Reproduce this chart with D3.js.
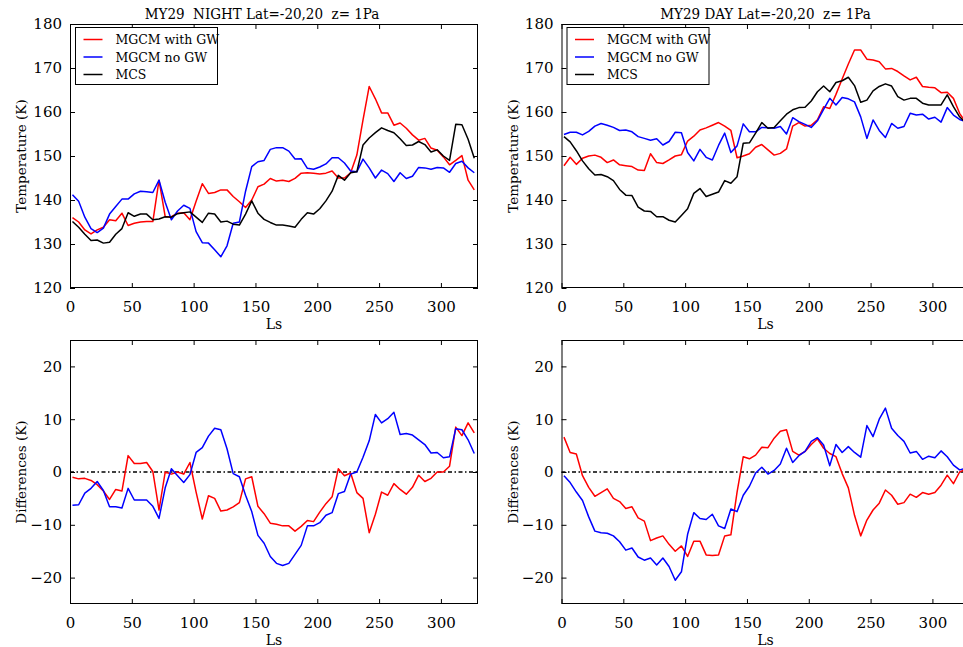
<!DOCTYPE html>
<html><head><meta charset="utf-8">
<script src="https://cdn.jsdelivr.net/npm/d3@7"></script>
<style>
body{margin:0;background:#fff;}
svg{display:block;}
text{white-space:pre;}
</style></head>
<body><svg id="chart" width="963" height="647"></svg>
<script>
const ls = [2,7,12,17,22,27,32,37,42,47,52,57,62,67,72,77,82,87,92,97,102,107,112,117,122,127,132,137,142,147,152,157,162,167,172,177,182,187,192,197,202,207,212,217,222,227,232,237,242,247,252,257,262,267,272,277,282,287,292,297,302,307,312,317,322,327];

const xTicks = [0,50,100,150,200,250,300];
const tempTicks = [120,130,140,150,160,170,180];
const diffTicks = [-20,-10,0,10,20];
const seriesNames = ["MGCM with GW","MGCM no GW","MCS"];
const titles = ["MY29  NIGHT Lat=-20,20  z= 1Pa","MY29 DAY Lat=-20,20  z= 1Pa"];

const nightWithGW = [136,135,133.2,132.3,133.2,133.8,135.5,135.3,137,134.2,134.7,135,135.1,135.1,144.5,136.2,136.2,137,137.1,135.5,139.7,143.7,141.5,141.7,142.3,142.3,140.8,139.6,138.3,140,143,143.6,144.9,144.3,144.5,144.2,144.9,146.1,146.2,146.1,145.9,146.1,146.6,145,145,146.2,150.2,158.2,165.8,163,159.8,159.8,157,157.5,156.3,154.8,153.6,154,151.8,151.3,149.8,148,149,150.1,144.5,142.3];
const nightNoGW = [141.2,139.7,136.1,133.5,132.6,133.6,136.8,138.5,140.2,140.2,141.4,142,141.9,141.7,144.5,139.5,135.5,137.5,138.8,138.1,132.8,130.3,130.2,128.7,127.1,129.6,134.7,135,142,147.6,148.7,149,151.5,151.9,151.9,151.1,149.3,149.4,147.2,147,147.5,148.2,149.6,149.6,148.4,146.6,146.4,149.3,147.3,145,146.8,146,144.2,146.2,144.9,145.4,147.4,147.3,147,147.4,147.3,146.3,148.3,148.8,147.3,146.2];
const nightMCS = [135.1,133.8,132.2,130.8,130.9,130.2,130.4,132.2,133.5,137.1,136.3,136.8,136.8,135.5,135.7,136.2,136.1,136.9,137.1,137.3,136.1,134.9,137,136.8,135,135.2,134.5,134.3,136.8,139.8,137,135.6,134.9,134.3,134.3,134.1,133.8,135.6,137.1,136.8,138,139.8,142,145.6,144.5,146.2,146.4,152.5,154.1,155.3,156.4,155.8,155.3,153.9,152.4,152.5,153.3,152.6,150.9,151.4,150,149,157.2,157.1,153.8,149.5];

const dayWithGW = [147.8,149.7,148.1,149.5,150,150.2,149.7,148.5,149.1,148,147.8,147.6,146.8,146.7,150.5,148.5,148.3,149.1,150,150.3,153.4,154.5,155.9,156.4,157,157.6,156.8,155.8,149.6,150,150.5,152,152.6,151.4,150.2,150.6,151.6,156.8,157.6,156.8,157,158.2,161.2,160.8,164,167.5,170.9,174.1,174.1,172,171.8,171.4,169.8,169.9,169.2,168.2,167.3,167.9,165.8,165.6,165.5,164.4,164.5,163.1,159.7,157.6];
const dayNoGW = [154.9,155.4,155.4,154.8,155.6,156.8,157.4,157,156.5,155.8,155.9,155.5,154.4,154,153.6,153.9,152.5,153.3,155.4,155.3,150.8,148.9,151.5,149.7,149.1,152.4,155.2,150.8,152.3,157.3,155.5,155.5,156.5,156.4,156.3,156.7,155,158.7,157.8,157.2,156.5,158,160.6,163.1,161.6,163.3,163,162.3,158.9,154,158.2,155.8,154.2,157.4,156.3,156.7,159.7,159.3,159.5,158.4,158.8,157.7,161,159.3,158.3,157.8];
const dayMCS = [154.4,153.2,151.2,148.9,147.1,145.7,145.8,145.3,144.4,142.4,141.1,141,138.4,137.5,137.4,136.2,136.2,135.4,135,136.5,138,141.5,142.6,140.8,141.3,141.8,144.4,143.8,145.3,152.9,153,155.2,157.6,156.3,156.5,158,159.5,160.5,161,161.1,162.5,164.6,165.9,164.6,166.7,167.1,167.9,166,162.2,162.7,164.8,165.8,166.4,165.9,163.5,162.7,163.1,163.1,162,161.6,161.6,161.6,163.9,161.2,158.9,157.5];

const nightDiffWithGW = [-1,-1.3,-1.2,-1.6,-2.4,-3.6,-5.2,-3.3,-3.6,3.1,1.6,1.6,1.8,0.1,-7.2,0,-0.4,0,-0.4,1.8,-3.8,-8.9,-4.5,-5,-7.4,-7.2,-6.6,-5.8,-1.3,-0.9,-6.5,-7.9,-9.7,-9.9,-10.2,-10.2,-11.2,-10.3,-9.2,-9.4,-7.6,-6,-4.7,0.6,-0.7,-0.2,-3.9,-5,-11.5,-8,-3.8,-4.4,-2.2,-3.3,-4.2,-2.9,-0.6,-1.8,-1.2,0,0,1.1,8.5,6.9,9.3,7.4];
const nightDiffNoGW = [-6.3,-6.2,-4,-3.1,-1.8,-3.5,-6.6,-6.6,-6.8,-3.1,-5.3,-5.3,-5.3,-6.5,-8.8,-3,0.6,-0.7,-2,-0.5,3.7,4.6,6.8,8.3,8,4.4,-0.3,-0.9,-4.4,-7.5,-12,-13.5,-16,-17.3,-17.7,-17.3,-15.6,-13.9,-10.2,-10.2,-9.6,-8.2,-7.7,-4.1,-3.7,-0.4,0,2.8,5.9,10.9,9.3,10.1,11.3,7.1,7.3,7,6.1,5.2,3.6,3.7,2.7,2.9,8.2,8,6.1,3.5];
const dayDiffWithGW = [6.6,3.7,3.4,-0.7,-2.9,-4.6,-3.9,-3.2,-5,-5.6,-6.9,-6.6,-8.7,-9.3,-13,-12.5,-12.1,-13.7,-15,-14,-16,-13.1,-13.1,-15.7,-15.8,-15.7,-12.1,-11.9,-3.8,2.9,2.5,3.2,4.7,4.6,6.4,7.7,8,3.9,3.2,3.9,5.2,6.3,4.5,3.5,2.9,-0.3,-3,-8.2,-12.1,-9.1,-7.2,-5.9,-3.4,-4.4,-6.1,-5.8,-4.2,-4.8,-3.9,-4.2,-3.9,-2.5,-0.6,-2.2,0,0.5];
const dayDiffNoGW = [-0.7,-2,-3.8,-5.4,-8.5,-11.2,-11.5,-11.6,-12.1,-13.2,-14.8,-14.4,-16.1,-16.7,-16.3,-17.6,-16.3,-17.9,-20.5,-18.9,-11.8,-7.7,-8.8,-9,-8,-10.2,-10.7,-7,-7.5,-4.4,-2.7,-0.2,0.9,-0.4,0.3,1.5,4.5,1.8,3.1,3.9,5.8,6.5,5.1,1.2,5.2,3.7,4.8,3.7,2.8,8.8,6.7,10,12.1,8.3,6.9,5.8,3.6,3.9,2.4,3,2.7,4,2.9,1.3,0.4,0.7];

const colors = ["#ff0000","#0000ff","#000000"];
const svg = d3.select("#chart");
const W = 408, H = 264;
const FONT = "'DejaVu Serif', 'Liberation Serif', serif";
const TFONT = "'DejaVu Serif Condensed', 'DejaVu Serif', 'Liberation Serif', serif";

function panel(opts){
  const {left, top, yDomain, yTicks, series, title, titleShift, ylabel, legend, zero, cid} = opts;
  const x = d3.scaleLinear().domain([0,330]).range([0,W]);
  const y = d3.scaleLinear().domain(yDomain).range([H,0]);
  const g = svg.append("g").attr("transform",`translate(${left},${top})`);
  g.append("clipPath").attr("id",cid).append("rect").attr("width",W).attr("height",H);

  const fmt = d => d < 0 ? "\u2212" + Math.abs(d) : String(d);
  const ax = g.append("g").attr("transform",`translate(0,${H})`)
    .call(d3.axisBottom(x).tickValues(xTicks).tickSizeInner(-5).tickSizeOuter(0).tickPadding(13));
  const ay = g.append("g")
    .call(d3.axisLeft(y).tickValues(yTicks).tickSizeInner(-5).tickSizeOuter(0).tickPadding(8).tickFormat(fmt));
  const at = g.append("g").call(d3.axisTop(x).tickValues(xTicks).tickSizeInner(-5).tickSizeOuter(0).tickFormat(""));
  const ar = g.append("g").attr("transform",`translate(${W},0)`)
    .call(d3.axisRight(y).tickValues(yTicks).tickSizeInner(-5).tickSizeOuter(0).tickFormat(""));
  [ax,ay,at,ar].forEach(a=>{
    a.select(".domain").remove();
    a.selectAll("text").attr("font-family",FONT).attr("font-size","15px").attr("fill","#000");
    a.selectAll("line").attr("stroke","#000").attr("stroke-width",1);
  });

  if (zero) {
    g.append("line").attr("x1",0).attr("x2",W).attr("y1",y(0)).attr("y2",y(0))
      .attr("stroke","#000").attr("stroke-width",1.3).attr("stroke-dasharray","4,2.5,1.5,2.5");
  }

  const line = d3.line().x((d,i)=>x(ls[i])).y(d=>y(d));
  const lg = g.append("g").attr("clip-path",`url(#${cid})`);
  series.forEach(s=>{
    lg.append("path").datum(s.values).attr("d",line).attr("fill","none")
      .attr("stroke",s.color).attr("stroke-width",1.5).attr("stroke-linejoin","round");
  });

  g.append("rect").attr("x",0.5).attr("y",0.5).attr("width",W-1).attr("height",H-1)
    .attr("fill","none").attr("stroke","#000").attr("stroke-width",1);

  if (title) {
    g.append("text").attr("x",W/2 + (titleShift||0)).attr("y",-5).attr("text-anchor","middle")
      .attr("font-family",TFONT).attr("font-stretch","condensed")
      .attr("font-size","15px").attr("xml:space","preserve").text(title);
  }
  g.append("text").attr("x",W/2).attr("y",H+41).attr("text-anchor","middle")
    .attr("font-family",FONT).attr("font-size","14px").text("Ls");
  g.append("text").attr("transform",`translate(-44,${H/2}) rotate(-90)`).attr("text-anchor","middle")
    .attr("font-family",FONT).attr("font-size","13.5px").text(ylabel);

  if (legend) {
    const lgd = g.append("g").attr("transform","translate(5.5,3.5)");
    lgd.append("rect").attr("width",142).attr("height",57).attr("fill","#fff").attr("stroke","#000").attr("stroke-width",1);
    series.forEach((s,i)=>{
      const yy = 12 + i*17.5;
      lgd.append("line").attr("x1",8).attr("x2",27).attr("y1",yy).attr("y2",yy)
        .attr("stroke",s.color).attr("stroke-width",1.5);
      lgd.append("text").attr("x",40).attr("y",yy+4.5).attr("font-family",FONT)
        .attr("font-size","12.5px").text(s.name);
    });
  }
}

panel({left:70, top:24, yDomain:[120,180], yTicks:tempTicks, title:titles[0], titleShift:-12, ylabel:"Temperature (K)", legend:true, cid:"c1",
  series:[{name:seriesNames[0],values:nightWithGW,color:colors[0]},{name:seriesNames[1],values:nightNoGW,color:colors[1]},{name:seriesNames[2],values:nightMCS,color:colors[2]}]});
panel({left:561.5, top:24, yDomain:[120,180], yTicks:tempTicks, title:titles[1], ylabel:"Temperature (K)", legend:true, cid:"c2",
  series:[{name:seriesNames[0],values:dayWithGW,color:colors[0]},{name:seriesNames[1],values:dayNoGW,color:colors[1]},{name:seriesNames[2],values:dayMCS,color:colors[2]}]});
panel({left:70, top:340, yDomain:[-25,25], yTicks:diffTicks, ylabel:"Differences (K)", zero:true, cid:"c3",
  series:[{values:nightDiffWithGW,color:colors[0]},{values:nightDiffNoGW,color:colors[1]}]});
panel({left:561.5, top:340, yDomain:[-25,25], yTicks:diffTicks, ylabel:"Differences (K)", zero:true, cid:"c4",
  series:[{values:dayDiffWithGW,color:colors[0]},{values:dayDiffNoGW,color:colors[1]}]});
</script></body></html>
